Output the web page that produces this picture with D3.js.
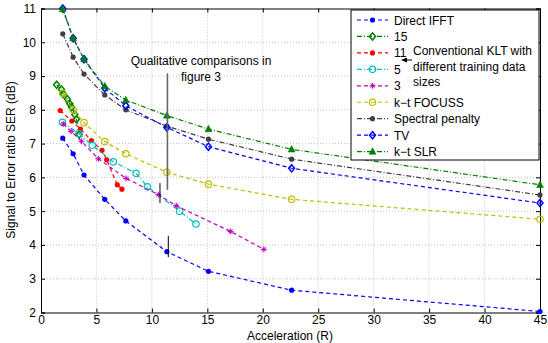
<!DOCTYPE html>
<html><head><meta charset="utf-8">
<script src="https://cdn.jsdelivr.net/npm/d3@7"></script>
<style>
body{margin:0;background:#fff;}
svg text{font-family:"Liberation Sans",Arial,sans-serif;}
</style></head>
<body><svg id="c" width="548" height="343"></svg>
<script>
// ---- data ----
const accel = [1.96, 2.9, 3.88, 5.75, 7.65, 11.35, 15.1, 22.6, 45];
const directIFFT = [7.16, 6.7, 6.07, 5.35, 4.71, 3.8, 3.22, 2.66, 2.03];
const tv = [11.0, 10.12, 9.5, 8.64, 8.12, 7.48, 6.91, 6.27, 5.24];
const spectral = [10.25, 9.56, 9.06, 8.44, 8.0, 7.52, 7.13, 6.54, 5.48];
const ktSLR = [10.98, 10.12, 9.5, 8.7, 8.29, 7.83, 7.43, 6.83, 5.78];
const focuss = [8.49, 8.0, 7.62, 7.06, 6.7, 6.15, 5.8, 5.35, 4.76];

const klt15x = [1.41, 1.85, 2.0, 2.37, 2.6, 2.76, 3.05, 3.2, 3.45];
const klt15y = [8.74, 8.6, 8.47, 8.32, 8.18, 8.08, 7.86, 7.72, 7.27];
const klt11x = [1.73, 2.78, 3.55, 4.55, 5.5, 5.92, 6.88, 7.3];
const klt11y = [7.98, 7.67, 7.43, 7.09, 6.8, 6.52, 5.78, 5.65];
const klt5x = [1.93, 3.4, 4.62, 6.52, 8.57, 9.6, 12.5, 13.97];
const klt5y = [7.63, 7.3, 6.95, 6.46, 6.12, 5.72, 5.0, 4.62];
const klt3x = [2.0, 2.72, 3.65, 5.17, 7.68, 10.58, 12.2, 17.1, 20.1];
const klt3y = [7.58, 7.36, 7.07, 6.55, 5.97, 5.49, 5.16, 4.4, 3.87];

const xTicks = [0, 5, 10, 15, 20, 25, 30, 35, 40, 45];
const yTicks = [2, 3, 4, 5, 6, 7, 8, 9, 10, 11];
const legendNames = ["Direct IFFT", "15", "11", "5", "3", "k\u2212t FOCUSS", "Spectral penalty", "TV", "k\u2212t SLR"];
// annotation marks [x, y0, y1]
const markLines = [[11.4, 9.08, 5.63, "#666", 1.6], [10.73, 5.83, 5.24, "#000", 1], [11.48, 4.27, 3.64, "#000", 1]];

// ---- chart ----
const svg = d3.select("#c");
const L = 41, R = 540, T = 8.5, B = 312.5;
const x = d3.scaleLinear().domain([0, 45]).range([L, R]);
const y = d3.scaleLinear().domain([2, 11]).range([B, T]);

// grid
const g = svg.append("g");
g.selectAll(".gx").data(xTicks.slice(1, -1)).enter().append("line")
  .attr("x1", d => x(d)).attr("x2", d => x(d)).attr("y1", T).attr("y2", B)
  .attr("stroke", "#b0b0b0").attr("stroke-width", 0.8).attr("stroke-dasharray", "1,2");
g.selectAll(".gy").data(yTicks.slice(1, -1)).enter().append("line")
  .attr("y1", d => y(d)).attr("y2", d => y(d)).attr("x1", L).attr("x2", R)
  .attr("stroke", "#b0b0b0").attr("stroke-width", 0.8).attr("stroke-dasharray", "1,2");

// axes
const ax = svg.append("g").attr("transform", `translate(0,${B})`)
  .call(d3.axisBottom(x).tickValues(xTicks).tickSize(-4).tickPadding(3).tickFormat(d3.format("d")));
const ay = svg.append("g").attr("transform", `translate(${L},0)`)
  .call(d3.axisLeft(y).tickValues(yTicks).tickSize(-4).tickPadding(5).tickFormat(d3.format("d")));
const axt = svg.append("g").attr("transform", `translate(0,${T})`)
  .call(d3.axisTop(x).tickValues(xTicks).tickSize(-4).tickFormat(""));
const ayr = svg.append("g").attr("transform", `translate(${R},0)`)
  .call(d3.axisRight(y).tickValues(yTicks).tickSize(-4).tickFormat(""));
[ax, ay, axt, ayr].forEach(a => {
  a.select(".domain").attr("stroke", "#000").attr("stroke-width", 1);
  a.selectAll(".tick line").attr("stroke", "#000");
  a.selectAll("text").attr("font-size", 12).attr("fill", "#000")
    .style("font-family", "'Liberation Sans',Arial,sans-serif");
});

svg.append("text").attr("x", 290).attr("y", 340).attr("text-anchor", "middle")
  .attr("font-size", 12).text("Acceleration (R)");
svg.append("text").attr("transform", "translate(15,160) rotate(-90)").attr("text-anchor", "middle")
  .attr("font-size", 12).text("Signal to Error ratio SER (dB)");

// series
const dashed = "4,3", dashdot = "5,2,1,2";
const series = [
  {name: legendNames[0], xs: accel, ys: directIFFT, color: "#0000ff", dash: dashed, marker: "dot"},
  {name: legendNames[1], xs: klt15x, ys: klt15y, color: "#008000", dash: dashdot, marker: "diamond"},
  {name: legendNames[2], xs: klt11x, ys: klt11y, color: "#ff0000", dash: dashed, marker: "dot"},
  {name: legendNames[3], xs: klt5x, ys: klt5y, color: "#00bfbf", dash: dashdot, marker: "circle"},
  {name: legendNames[4], xs: klt3x, ys: klt3y, color: "#bf00bf", dash: dashed, marker: "plus"},
  {name: legendNames[5], xs: accel, ys: focuss, color: "#bfbf00", dash: dashed, marker: "circle"},
  {name: legendNames[6], xs: accel, ys: spectral, color: "#404040", dash: dashdot, marker: "dot"},
  {name: legendNames[7], xs: accel, ys: tv, color: "#0000ff", dash: dashed, marker: "diamond"},
  {name: legendNames[8], xs: accel, ys: ktSLR, color: "#008000", dash: dashdot, marker: "triangle"}
];

function drawMarker(sel, type, color, cx, cy) {
  if (type === "dot") {
    sel.append("circle").attr("cx", cx).attr("cy", cy).attr("r", 2.6).attr("fill", color);
  } else if (type === "circle") {
    sel.append("circle").attr("cx", cx).attr("cy", cy).attr("r", 3.2).attr("fill", "none")
      .attr("stroke", color).attr("stroke-width", 1.2);
  } else if (type === "diamond") {
    sel.append("path").attr("transform", `translate(${cx},${cy})`).attr("d", "M0,-3.6L3,0L0,3.6L-3,0Z")
      .attr("fill", "none").attr("stroke", color).attr("stroke-width", 1.5);
  } else if (type === "triangle") {
    sel.append("path").attr("transform", `translate(${cx},${cy})`).attr("d", "M0,-3.8L3.4,2.6L-3.4,2.6Z")
      .attr("fill", color).attr("stroke", color).attr("stroke-width", 0.6);
  } else if (type === "plus") {
    sel.append("path").attr("transform", `translate(${cx},${cy})`).attr("d", "M-3,0H3M0,-3V3M-2,-2L2,2M-2,2L2,-2")
      .attr("stroke", color).attr("stroke-width", 1);
  }
}

const line = d3.line().x(d => x(d[0])).y(d => y(d[1]));
const plot = svg.append("g");
series.forEach(s => {
  const pts = s.xs.map((v, i) => [v, s.ys[i]]);
  plot.append("path").datum(pts).attr("d", line).attr("fill", "none")
    .attr("stroke", s.color).attr("stroke-width", 1.2).attr("stroke-dasharray", s.dash);
  pts.forEach(p => drawMarker(plot, s.marker, s.color, x(p[0]), y(p[1])));
});

// annotation
markLines.forEach(m => {
  svg.append("line").attr("x1", x(m[0])).attr("x2", x(m[0])).attr("y1", y(m[1])).attr("y2", y(m[2]))
    .attr("stroke", m[3]).attr("stroke-width", m[4]);
});
svg.append("text").attr("x", 201).attr("y", 65).attr("text-anchor", "middle").attr("font-size", 12)
  .text("Qualitative comparisons in");
svg.append("text").attr("x", 201).attr("y", 81).attr("text-anchor", "middle").attr("font-size", 12)
  .text("figure 3");

// legend
const lg = svg.append("g");
lg.append("rect").attr("x", 351).attr("y", 10).attr("width", 188).attr("height", 150)
  .attr("fill", "#fff").attr("stroke", "#000").attr("stroke-width", 1);
series.forEach((s, i) => {
  const cy = 20 + i * 16.45;
  lg.append("line").attr("x1", 357).attr("x2", 388).attr("y1", cy).attr("y2", cy)
    .attr("stroke", s.color).attr("stroke-width", 1.2).attr("stroke-dasharray", s.dash);
  drawMarker(lg, s.marker, s.color, 372.5, cy);
  lg.append("text").attr("x", 394).attr("y", cy + 4.5).attr("font-size", 12).text(s.name);
});
["Conventional KLT with", "different training data", "sizes"].forEach((t, i) => {
  lg.append("text").attr("x", 413).attr("y", 55 + i * 15.5).attr("font-size", 12).text(t);
});
lg.append("line").attr("x1", 406).attr("x2", 412).attr("y1", 60).attr("y2", 60).attr("stroke", "#000");
lg.append("path").attr("d", "M401,60L407,57.5L407,62.5Z").attr("fill", "#000");
</script></body></html>
